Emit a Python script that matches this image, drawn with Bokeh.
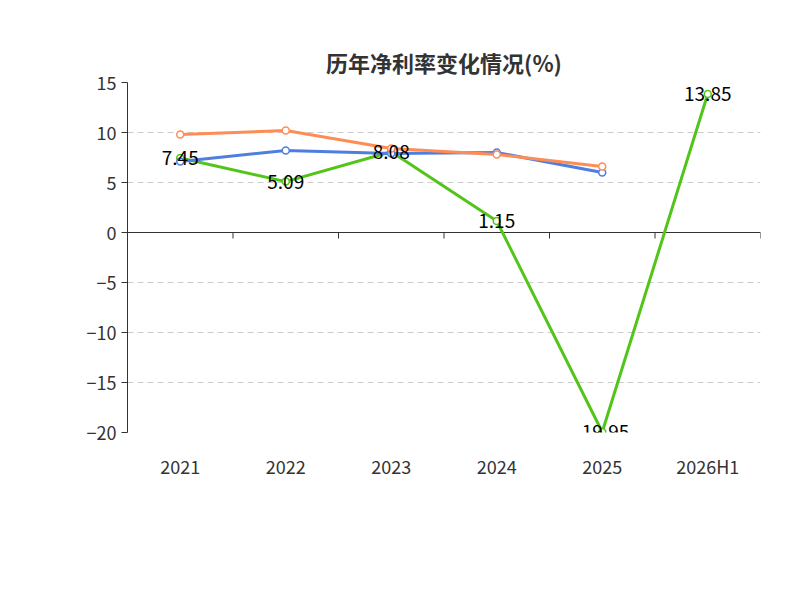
from bokeh.plotting import figure
from bokeh.models import FixedTicker, Range1d, Legend, LegendItem, Label, ColumnDataSource
from bokeh.embed import file_html
from bokeh.resources import INLINE

cats = ["2021", "2022", "2023", "2024", "2025", "2026H1"]
company = [7.45, 5.09, 8.08, 1.15, -19.95, 13.85]
ind_avg = [7.1, 8.2, 7.9, 8.0, 6.0]
ind_med = [9.8, 10.2, 8.4, 7.8, 6.6]
yticks = [15, 10, 5, 0, -5, -10, -15, -20]

xs = [i + 0.5 for i in range(len(cats))]
FONT = "Noto Sans CJK SC"

p = figure(width=784, height=584, output_backend="svg", toolbar_location=None,
           x_range=Range1d(0, len(cats)), y_range=Range1d(-20, 15),
           min_border_left=127, min_border_right=24, min_border_top=82, min_border_bottom=152)
p.outline_line_color = None

p.title.text = "历年净利率变化情况(%)"
p.title.align = "center"
p.title.text_font = FONT
p.title.text_font_size = "22px"
p.title.text_color = "#333333"
p.title.offset = 0

p.xaxis.ticker = FixedTicker(ticks=xs)
p.xaxis.major_label_overrides = {x: c for x, c in zip(xs, cats)}
p.xaxis.axis_line_color = None
p.xaxis.major_tick_line_color = None
p.xaxis.major_label_text_font = FONT
p.xaxis.major_label_text_font_size = "18px"
p.xaxis.major_label_text_color = "#333333"
p.xaxis.major_label_standoff = 14
p.xgrid.grid_line_color = None

p.yaxis.ticker = FixedTicker(ticks=yticks)
p.yaxis.axis_line_color = "#333333"
p.yaxis.major_tick_line_color = "#333333"
p.yaxis.major_tick_out = 6
p.yaxis.major_tick_in = 0
p.yaxis.minor_tick_line_color = None
p.yaxis.major_label_text_font = FONT
p.yaxis.major_label_text_font_size = "18px"
p.yaxis.major_label_text_color = "#333333"
p.ygrid.grid_line_color = "#cccccc"
p.ygrid.grid_line_dash = "6 4"

p.segment(x0=[0], y0=[0], x1=[len(cats)], y1=[0], line_color="#333333", line_width=1.2)
bx = list(range(len(cats) + 1))
p.segment(x0=bx, y0=[0] * len(bx), x1=bx, y1=[-0.6] * len(bx), line_color="#333333")

cs = ColumnDataSource(dict(x=xs, y=company, t=[f"{v:.2f}" for v in company]))
r1 = p.line(xs, company, line_color="#52c41a", line_width=3)
c1 = p.scatter(xs, company, size=7, fill_color="white", line_color="#52c41a", line_width=1.5)
r2 = p.line(xs[:5], ind_avg, line_color="#4e7fe0", line_width=3)
c2 = p.scatter(xs[:5], ind_avg, size=7, fill_color="white", line_color="#4e7fe0", line_width=1.5)
r3 = p.line(xs[:5], ind_med, line_color="#ff8c55", line_width=3)
c3 = p.scatter(xs[:5], ind_med, size=7, fill_color="white", line_color="#ff8c55", line_width=1.5)
p.text(x="x", y="y", text="t", source=cs, text_align="center", text_baseline="middle",
       text_font_size="19px", text_color="black", text_font={"value": FONT})

p.add_layout(Label(x=-0.6, y=11.5, text="(%)", angle=1.5708,
                   text_color="red", text_font_size="15px", text_align="center",
                   text_baseline="middle", text_font=FONT))
p.add_layout(Label(x=2.51, y=-35, text="制图数据来自恒生聚源数据库", text_color="#c8961e",
                   text_font_size="15px", text_align="center", text_baseline="middle",
                   text_font=FONT))

legend = Legend(items=[LegendItem(label="公司净利率", renderers=[r1, c1]),
                       LegendItem(label="行业均值", renderers=[r2, c2]),
                       LegendItem(label="行业中位数", renderers=[r3, c3])],
                orientation="horizontal", location=(-15, -115), border_line_color=None,
                background_fill_alpha=0,
                label_text_font=FONT, label_text_font_size="20px", label_text_color="#333333",
                glyph_width=44, glyph_height=20, spacing=22)
p.add_layout(legend, "center")

open("out.html", "w").write(file_html(p, INLINE))
